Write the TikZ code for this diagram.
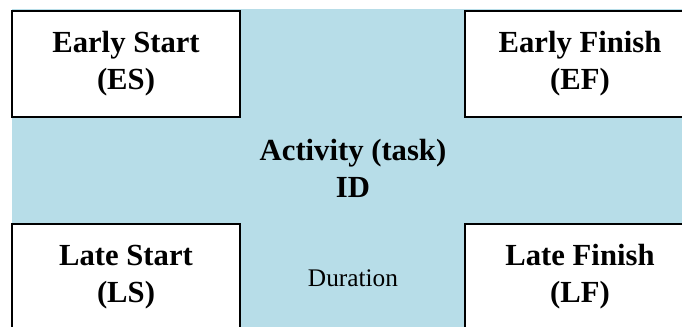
\documentclass[tikz,border=0pt]{standalone}
\usepackage{fontspec}
\setmainfont{Liberation Serif}
\definecolor{actblue}{HTML}{B7DDE8}

\begin{document}
\begin{tikzpicture}[x=0.75pt,y=0.75pt,
  timebox/.style={draw=black,fill=white,line width=2.2pt},
  boxtext/.style={align=center,font=\fontsize{23}{27.75}\selectfont\bfseries}]
\tikzstyle{every node}+=[inner sep=0pt]
\useasboundingbox (0,0) rectangle (682,-327);
% cross of the activity
\fill [actblue] (12,-9) rectangle (700,-340);
% the four corner boxes
\draw [timebox] (12,-11) rectangle (240,-117);
\draw [timebox] (465,-11) rectangle (695,-117);
\draw [timebox] (12,-224) rectangle (240,-335);
\draw [timebox] (465,-224) rectangle (695,-335);
\node [boxtext] (es) at (126,-64) {Early Start\\(ES)};
\node [boxtext] (ef) at (580,-64) {Early Finish\\(EF)};
\node [boxtext] (ls) at (126,-277) {Late Start\\(LS)};
\node [boxtext] (lf) at (580,-277) {Late Finish\\(LF)};
\node [boxtext] (act) at (353,-168) {Activity (task)\\ID};
\node [font=\fontsize{19}{22}\selectfont] (dur) at (353,-278) {Duration};
\end{tikzpicture}
\end{document}
